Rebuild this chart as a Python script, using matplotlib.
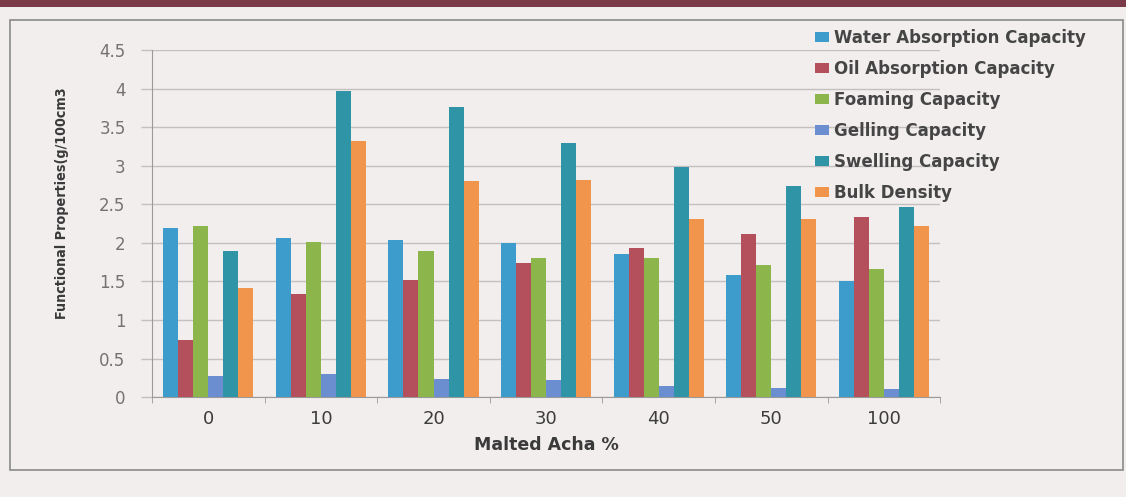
import matplotlib
matplotlib.use("Agg")
import matplotlib.pyplot as plt
import numpy as np
from matplotlib.patches import Rectangle

categories = ["0", "10", "20", "30", "40", "50", "100"]
series_names = [
    "Water Absorption Capacity",
    "Oil Absorption Capacity",
    "Foaming Capacity",
    "Gelling Capacity",
    "Swelling Capacity",
    "Bulk Density",
]
water = [2.20, 2.06, 2.04, 2.00, 1.86, 1.59, 1.51]
oil = [0.74, 1.34, 1.52, 1.74, 1.93, 2.12, 2.33]
foaming = [2.22, 2.01, 1.89, 1.81, 1.81, 1.71, 1.66]
gelling = [0.27, 0.30, 0.24, 0.22, 0.15, 0.12, 0.11]
swelling = [1.89, 3.97, 3.76, 3.29, 2.98, 2.74, 2.47]
bulk = [1.42, 3.32, 2.80, 2.82, 2.31, 2.31, 2.22]
y_ticks = [0, 0.5, 1, 1.5, 2, 2.5, 3, 3.5, 4, 4.5]
y_tick_labels = ["0", "0.5", "1", "1.5", "2", "2.5", "3", "3.5", "4", "4.5"]

colors = ["#3d9ccb", "#b3505c", "#8cb54c", "#6b8ed0", "#2f94a6", "#f2954c"]
series = [water, oil, foaming, gelling, swelling, bulk]

bg = "#f2eeee"
grid_c = "#c4c0c0"
fig = plt.figure(figsize=(11.26, 4.97), dpi=100, facecolor=bg)

# outer chart frame and page strip
fig.patches.append(Rectangle((0, 0.985), 1, 0.015, transform=fig.transFigure,
                             facecolor="#7a3a48", edgecolor="none", zorder=0))
fig.patches.append(Rectangle((0.009, 0.055), 0.988, 0.905, transform=fig.transFigure,
                             facecolor="none", edgecolor="#8a8a8a", linewidth=1.2, zorder=0))

ax = fig.add_axes([0.135, 0.201, 0.700, 0.698])
ax.set_facecolor(bg)

n = len(series)
x = np.arange(len(categories))
width = 0.8 / n
for i, (vals, name, c) in enumerate(zip(series, series_names, colors)):
    offs = (i - (n - 1) / 2) * width
    ax.bar(x + offs, vals, width=width, color=c, label=name, zorder=3, linewidth=0)

ax.set_xlim(-0.5, len(categories) - 0.5)
ax.set_ylim(0, 4.5)
ax.set_yticks(y_ticks)
ax.set_yticklabels(y_tick_labels, fontsize=12, color="#767272", family="DejaVu Sans")
ax.set_xticks(x)
ax.set_xticklabels(categories, fontsize=13, color="#3c3c3c", family="DejaVu Sans")
ax.set_xticks(np.arange(len(categories) + 1) - 0.5, minor=True)
ax.tick_params(axis="x", which="major", length=0, pad=9)
ax.tick_params(axis="x", which="minor", length=4, color="#999999")
ax.tick_params(axis="y", length=8, color=grid_c, width=1.0, pad=11)

ax.grid(axis="y", color=grid_c, linewidth=1.0, zorder=0)
for side in ["top", "right"]:
    ax.spines[side].set_visible(False)
ax.spines["left"].set_color("#9a9a9a")
ax.spines["bottom"].set_color("#9a9a9a")

ax.set_xlabel("Malted Acha %", fontsize=12.5, fontweight="bold", color="#3a3a3a",
              family="DejaVu Sans", labelpad=6)
ax.set_ylabel("Functional Properties(g/100cm3", fontsize=10.3, fontweight="bold",
              fontstretch="condensed", color="#3a3a3a", family="DejaVu Sans")
ax.yaxis.set_label_coords(-0.105, 0.56)

leg = fig.legend(loc="upper left", bbox_to_anchor=(0.718, 0.955), frameon=False,
                 prop={"family": "DejaVu Sans", "size": 12, "weight": "bold"},
                 labelspacing=0.78, handlelength=0.85, handleheight=0.5,
                 handletextpad=0.3, borderaxespad=0)
for t in leg.get_texts():
    t.set_color("#454545")

fig.savefig("out.png", dpi=100, facecolor=bg)
